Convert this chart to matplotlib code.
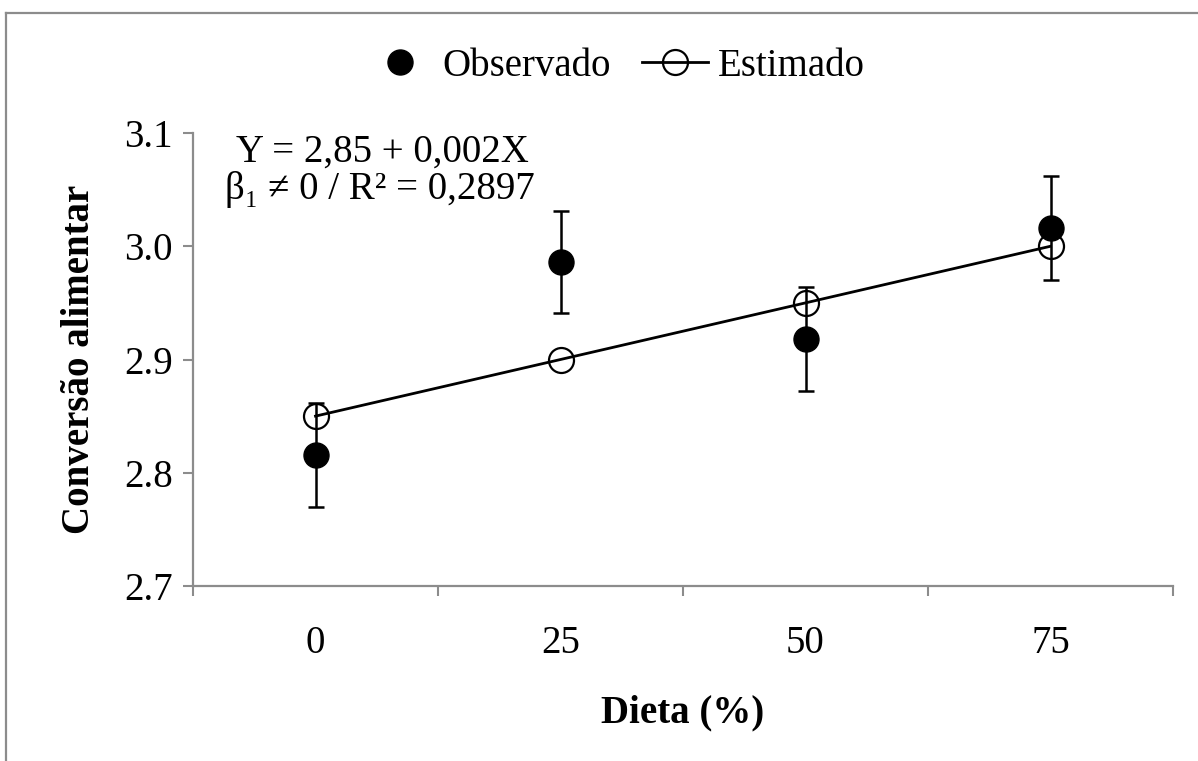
import matplotlib
matplotlib.use("Agg")
import matplotlib.pyplot as plt
from matplotlib.lines import Line2D

# Data
categories = ["0", "25", "50", "75"]
observado = [2.816, 2.986, 2.918, 3.016]
erro = [0.046, 0.045, 0.046, 0.046]
estimado = [2.85, 2.90, 2.95, 3.00]
yticks = [2.7, 2.8, 2.9, 3.0, 3.1]
ytick_labels = ["2.7", "2.8", "2.9", "3.0", "3.1"]

plt.rcParams['font.family'] = ['Liberation Serif', 'DejaVu Serif']
FS = 28
gray = '#8c8c8c'

fig = plt.figure(figsize=(11.98, 7.61), dpi=100)
ax = fig.add_axes([193/1198, 1-586/761, (1173-193)/1198, (586-133)/761])

x = list(range(len(categories)))

ax.plot(x, estimado, color='black', lw=2.0, marker='o', markersize=18,
        markerfacecolor='none', markeredgecolor='black', markeredgewidth=1.6, zorder=3)
ax.errorbar(x, observado, yerr=erro, fmt='o', color='black', markersize=18,
            ecolor='black', elinewidth=1.8, capsize=5.5, capthick=1.8, zorder=4)

ax.set_xlim(-0.5, len(categories) - 0.5)
ax.set_ylim(2.7, 3.1)
ax.set_yticks(yticks)
ax.set_yticklabels(ytick_labels, fontsize=FS)
ax.set_xticks(x)
ax.set_xticklabels(categories, fontsize=FS)
ax.set_xticks([i - 0.5 for i in range(len(categories) + 1)], minor=True)
ax.tick_params(axis='x', which='major', length=0, pad=28)
ax.tick_params(axis='x', which='minor', length=7.5, width=1.5, color=gray, direction='out')
ax.tick_params(axis='y', which='major', length=7.5, width=1.5, color=gray, direction='out', pad=7)

for s in ['top', 'right']:
    ax.spines[s].set_visible(False)
for s in ['left', 'bottom']:
    ax.spines[s].set_color(gray)
    ax.spines[s].set_linewidth(1.6)

fig.text(80/1198, 1-359/761, "Conversão alimentar", rotation=90, fontsize=FS,
         fontweight='bold', ha='center', va='center')
fig.text(683/1198, 1-713/761, "Dieta (%)", fontsize=FS, fontweight='bold',
         ha='center', va='center')

fig.text(382/1198, 1-152/761, "Y = 2,85 + 0,002X", fontsize=FS, ha='center', va='center')
fig.text(380/1198, 1-189/761, "β₁ ≠ 0 / R² = 0,2897", fontsize=FS, ha='center', va='center')

h1 = Line2D([], [], color='black', marker='o', linestyle='none', markersize=18)
h2 = Line2D([], [], color='black', lw=2.0, marker='o', markersize=18,
            markerfacecolor='none', markeredgewidth=1.6)
fig.legend([h1, h2], ["Observado", "Estimado"], loc='center', ncol=2,
           bbox_to_anchor=(616/1198, 1-66/761), frameon=False, fontsize=FS,
           handlelength=1.7, handletextpad=0.25, columnspacing=0.8)

# outer frame (top and left visible)
fig.add_artist(Line2D([6/1198, 1.0], [1-13/761, 1-13/761], color=gray, lw=1.6,
                      transform=fig.transFigure))
fig.add_artist(Line2D([6/1198, 6/1198], [0, 1-13/761], color=gray, lw=1.6,
                      transform=fig.transFigure))

fig.savefig("out.png", dpi=100)
